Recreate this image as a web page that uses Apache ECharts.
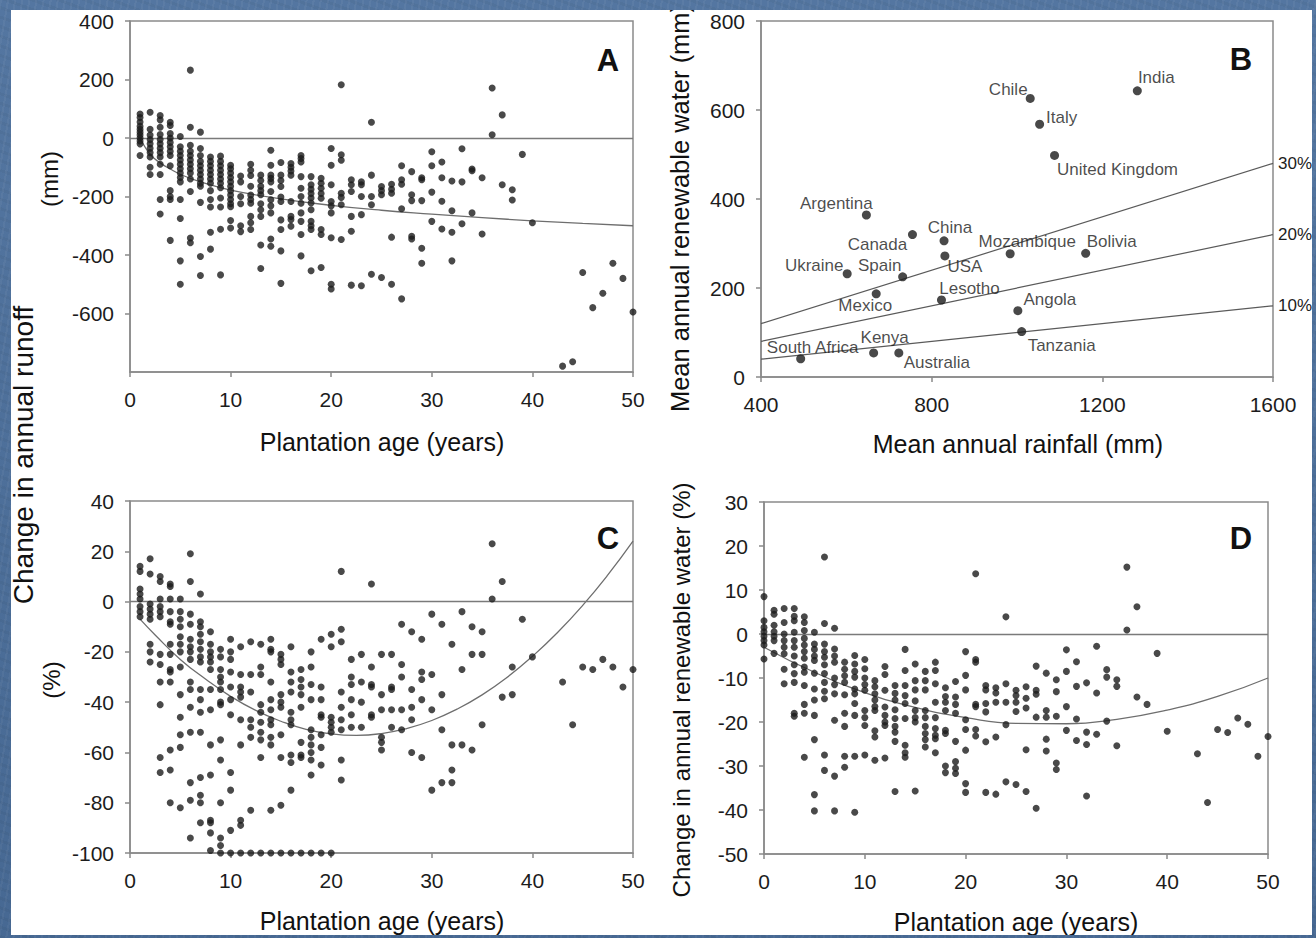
<!DOCTYPE html>
<html><head><meta charset="utf-8">
<script src="https://cdn.jsdelivr.net/npm/echarts@6/dist/echarts.min.js"></script>
<style>
html,body{margin:0;padding:0;width:1316px;height:938px;overflow:hidden;}
body{position:relative;}
.blue{background-color:#4b6f9c;background-image:linear-gradient(180deg,rgba(255,255,255,0.05),rgba(0,0,0,0.06)),repeating-linear-gradient(100deg,rgba(255,255,255,0.045) 0 2px,transparent 2px 7px),repeating-linear-gradient(20deg,rgba(0,0,0,0.04) 0 3px,transparent 3px 9px);background-attachment:fixed;}
#paper{position:absolute;left:11px;top:10px;width:1301px;height:925px;background:#fff;}
#chart{position:absolute;left:0;top:0;width:1316px;height:938px;}
.frame{position:absolute;}
</style></head>
<body class="blue">
<div id="paper"></div>
<div id="chart"></div>
<div class="frame blue" style="left:0;top:0;width:1316px;height:10px"></div>
<div class="frame blue" style="left:0;top:935px;width:1316px;height:3px"></div>
<div class="frame blue" style="left:0;top:0;width:11px;height:938px"></div>
<div class="frame blue" style="left:1312px;top:0;width:4px;height:938px"></div>
<script>
// ---------------- DATA ----------------
// Panel A: change in annual runoff (mm), grouped by plantation age (years)
const runoffMmByAge = [
  [1, [82, 70, 55, 40, 30, 20, 10, 0, -10, -20, -60]],
  [2, [88, 30, 10, -5, -20, -35, -50, -65, -100, -125]],
  [3, [77, 62, 37, 12, -5, -20, -35, -50, -65, -90, -125, -210, -260]],
  [4, [54, 43, 15, 0, -15, -30, -45, -60, -95, -180, -200, -210, -350]],
  [5, [5, -30, -45, -60, -75, -90, -105, -120, -135, -150, -210, -275, -420, -500]],
  [6, [232, 37, -25, -45, -60, -75, -90, -105, -120, -140, -183, -342, -358]],
  [7, [20, -36, -60, -80, -95, -110, -125, -140, -155, -165, -220, -405, -470]],
  [8, [-65, -80, -95, -110, -125, -140, -155, -180, -210, -236, -322, -380]],
  [9, [-62, -80, -95, -110, -125, -140, -155, -170, -205, -236, -312, -468]],
  [10, [-93, -105, -120, -135, -150, -165, -180, -195, -210, -225, -235, -282, -308]],
  [11, [-130, -150, -200, -225, -300, -320]],
  [12, [-90, -110, -128, -165, -195, -210, -223, -268, -290, -313]],
  [13, [-127, -145, -165, -180, -194, -225, -245, -268, -366, -446]],
  [14, [-42, -93, -127, -138, -150, -183, -211, -232, -256, -345, -370]],
  [15, [-84, -127, -145, -166, -202, -217, -280, -313, -386, -497]],
  [16, [-87, -100, -113, -127, -217, -268, -279, -302]],
  [17, [-60, -70, -82, -132, -172, -200, -223, -256, -285, -330, -403]],
  [18, [-132, -160, -175, -190, -205, -222, -245, -285, -300, -313, -454]],
  [19, [-138, -155, -172, -190, -206, -313, -330, -443]],
  [20, [-36, -93, -160, -217, -232, -256, -341, -500, -516]],
  [21, [182, -57, -76, -189, -203, -228, -347]],
  [22, [-143, -160, -183, -268, -319, -503]],
  [23, [-150, -160, -200, -262, -505]],
  [24, [54, -127, -200, -228, -466]],
  [25, [-166, -180, -194, -477]],
  [26, [-158, -175, -189, -339, -500]],
  [27, [-95, -143, -158, -242, -550]],
  [28, [-115, -194, -214, -336, -345]],
  [29, [-136, -143, -214, -377, -428]],
  [30, [-47, -95, -185, -285]],
  [31, [-82, -136, -216, -311]],
  [32, [-147, -249, -322, -420]],
  [33, [-37, -150, -293]],
  [34, [-106, -112, -256]],
  [35, [-136, -328]],
  [36, [171, 11]],
  [37, [79, -160]],
  [38, [-177, -212]],
  [39, [-56]],
  [40, [-290]],
  [43, [-780]],
  [44, [-765]],
  [45, [-460]],
  [46, [-580]],
  [47, [-531]],
  [48, [-428]],
  [49, [-480]],
  [50, [-595]]
];
const runoffMmFit = [[0.8,0],[1,-4],[2,-56],[3,-85],[4,-106],[5,-124],[7,-150],[10,-178],[15,-208],[20,-230],[25,-247],[30,-260],[35,-272],[40,-283],[45,-292],[50,-300]];

// Panel B: countries
const countries = ['India','Chile','Italy','United Kingdom','Argentina','Canada','China','USA','Mozambique','Bolivia','Ukraine','Spain','Mexico','Lesotho','Angola','Tanzania','South Africa','Kenya','Australia'];
const rainfallMm = [1282, 1031, 1053, 1088, 647, 755, 829, 831, 984, 1161, 602, 732, 670, 823, 1002, 1011, 493, 664, 723];
const renewableMm = [643, 626, 568, 498, 364, 320, 306, 272, 277, 278, 232, 225, 187, 173, 149, 102, 41, 54, 54];
const shareLabels = ['10%', '20%', '30%'];
const shareLines = [
  [[400, 40], [1600, 160]],
  [[400, 80], [1600, 320]],
  [[400, 120], [1600, 480]]
];

// Panel C: change in annual runoff (%)
const runoffPctByAge = [
  [1, [14, 12, 5, 3, 1, -2, -4, -6]],
  [2, [17, 11, -1, -3, -5, -7, -17, -20, -24]],
  [3, [10, 8, 1, -2, -4, -6, -21, -25, -32, -41, -62, -68]],
  [4, [7, 6, 1, -4, -8, -9, -17, -21, -27, -28, -32, -59, -67, -80]],
  [5, [1, -4, -7, -10, -14, -17, -20, -26, -37, -46, -53, -58, -82]],
  [6, [19, 8, -5, -9, -15, -18, -20, -23, -32, -35, -42, -52, -72, -79, -94]],
  [7, [3, -8, -10, -13, -16, -19, -22, -24, -35, -39, -44, -52, -70, -77, -80, -88]],
  [8, [-12, -17, -20, -22, -24, -27, -35, -43, -57, -69, -87, -88, -92, -99]],
  [9, [-19, -22, -27, -30, -32, -35, -40, -41, -55, -63, -80, -94, -97, -100]],
  [10, [-15, -20, -23, -28, -34, -39, -45, -68, -75, -91, -100]],
  [11, [-18, -29, -34, -36, -38, -47, -57, -87, -89, -100]],
  [12, [-16, -29, -36, -47, -50, -54, -83, -100]],
  [13, [-17, -26, -29, -41, -44, -48, -52, -55, -62, -100]],
  [14, [-15, -19, -20, -32, -39, -43, -47, -49, -54, -57, -83, -100]],
  [15, [-21, -23, -25, -37, -40, -42, -53, -62, -81, -100]],
  [16, [-18, -28, -32, -36, -44, -47, -49, -61, -64, -75, -100]],
  [17, [-27, -31, -34, -37, -42, -56, -61, -62, -100]],
  [18, [-20, -26, -33, -39, -51, -54, -57, -60, -63, -69, -100]],
  [19, [-15, -34, -39, -45, -46, -53, -58, -65, -100]],
  [20, [-13, -18, -46, -48, -50, -52, -100]],
  [21, [12, -11, -16, -36, -42, -47, -51, -63, -71]],
  [22, [-23, -30, -33, -39, -45, -50]],
  [23, [-21, -32, -40, -50]],
  [24, [7, -26, -33, -34, -45, -46]],
  [25, [-21, -37, -43, -54, -56, -59]],
  [26, [-21, -34, -35, -43, -50]],
  [27, [-9, -25, -30, -43, -51]],
  [28, [-12, -35, -42, -47, -60]],
  [29, [-15, -28, -31, -39, -62]],
  [30, [-5, -29, -43, -75]],
  [31, [-9, -37, -51, -72]],
  [32, [-17, -57, -67, -72]],
  [33, [-4, -27, -57]],
  [34, [-10, -21, -59]],
  [35, [-12, -21, -49]],
  [36, [23, 1]],
  [37, [8, -38]],
  [38, [-26, -37]],
  [39, [-7]],
  [40, [-22]],
  [43, [-32]],
  [44, [-49]],
  [45, [-26]],
  [46, [-27]],
  [47, [-23]],
  [48, [-26]],
  [49, [-34]],
  [50, [-27]]
];
const runoffPctFit = [[1,-7],[2.5,-13.3],[5,-23],[7.5,-30.8],[10,-37.7],[12.5,-43.3],[15,-47.6],[17.5,-50.8],[20,-52.6],[22.5,-53.2],[25,-52.5],[27.5,-50.5],[30,-47.3],[32.5,-42.8],[35,-37.1],[37.5,-30.1],[40,-21.8],[42.5,-12.3],[45,-1.5],[47.5,10.6],[50,24]];

// Panel D: change in annual renewable water (%)
const renewPctByAge = [
  [0, [8.5, 3, 1.5, 0.5, -0.5, -1.5, -2.5, -5.7]],
  [1, [5.4, 4.5, 2, 0.5, -0.5, -1.5, -4.4]],
  [2, [5.8, 2.6, 0, -1.5, -3, -4.5, -8, -11.3]],
  [3, [5.8, 4, 3, 0.4, -1.5, -3, -5, -7, -9, -11, -18, -18.7]],
  [4, [3.9, 2.6, 0.8, -1, -2.5, -4, -5.5, -7.5, -8.7, -11.7, -16, -18, -28]],
  [5, [0.4, -2.3, -3.5, -5, -6, -8.9, -12.5, -15, -18.5, -24, -36.5, -40.2]],
  [6, [17.5, 2.4, -2.3, -4, -5.3, -7, -9, -11, -13, -14.7, -27.5, -31]],
  [7, [1.3, -3.4, -5, -6.4, -10, -11.5, -13.6, -19.6, -32.3, -40.2]],
  [8, [-6.4, -8, -9.5, -11, -13.8, -18, -21, -27.8, -30.3]],
  [9, [-4.9, -6.8, -8.5, -9.8, -12.5, -13.6, -15.8, -18.5, -27.8, -40.5]],
  [10, [-5.8, -7.9, -10, -11.5, -12.8, -17.4, -19, -20.8, -27.5]],
  [11, [-10.6, -12, -13.6, -15, -16.5, -17.4, -22, -23.4, -28.7]],
  [12, [-7.4, -9.2, -12.8, -16.6, -18.5, -20, -20.8, -28.2]],
  [13, [-11.7, -13.5, -15, -17.2, -19.2, -21, -22.3, -24.4, -35.8]],
  [14, [-3.5, -8.3, -11.7, -14, -15.8, -19.2, -25.3, -27, -28]],
  [15, [-6.8, -10.6, -12.7, -15.2, -17.4, -19, -20, -35.7]],
  [16, [-8.5, -10.6, -12.7, -17.4, -19, -21, -22.6, -24, -25.7]],
  [17, [-6.4, -8.3, -11.3, -15.5, -19, -21.5, -23, -23.8, -27]],
  [18, [-12.2, -14.2, -15.5, -17.4, -21.9, -22.6, -30, -31.5]],
  [19, [-10.8, -14.3, -16, -18, -24.4, -29, -30.5, -31.7]],
  [20, [-4, -9.4, -12.7, -19.5, -21.7, -26.4, -34, -36]],
  [21, [13.7, -5.8, -6.4, -16, -16.5, -21.7, -23.2]],
  [22, [-11.7, -12.7, -15.8, -17.7, -24.5, -36]],
  [23, [-12.2, -13.4, -15.5, -23.4, -36.4]],
  [24, [3.9, -11.3, -15.5, -20.6, -33.6]],
  [25, [-12.8, -14, -15.5, -17.6, -34.2]],
  [26, [-12, -14.6, -16.8, -26.3, -35.8]],
  [27, [-7.3, -12.8, -13.7, -18.9, -39.6]],
  [28, [-8.9, -17.4, -18.9, -23.9, -26.6]],
  [29, [-10.4, -13.1, -18.7, -29.3, -30.8]],
  [30, [-3.6, -8.5, -16.5, -21.9]],
  [31, [-6.3, -11.9, -19.3, -24.2]],
  [32, [-11.1, -22.3, -25.1, -36.8]],
  [33, [-2.8, -13.4, -22.8]],
  [34, [-8.1, -9.8, -19.8]],
  [35, [-10.4, -11.9, -25.4]],
  [36, [15.2, 0.9]],
  [37, [6.2, -14.3]],
  [38, [-16]],
  [39, [-4.4]],
  [40, [-22.1]],
  [43, [-27.2]],
  [44, [-38.3]],
  [45, [-21.7]],
  [46, [-22.4]],
  [47, [-19.1]],
  [48, [-20.5]],
  [49, [-27.8]],
  [50, [-23.3]]
];
const renewPctFit = [[0,-3],[5,-8.7],[10,-13.3],[15,-16.7],[20,-19],[25,-20.3],[30,-20.4],[35,-19.4],[40,-17.3],[45,-14.2],[50,-10]];

// Tick settings
const ageTicks = {min: 0, max: 50, interval: 10};
const runoffMmTicks = {min: -800, max: 400, interval: 200};
const rainfallTicks = {min: 400, max: 1600, interval: 400};
const renewableTicks = {min: 0, max: 800, interval: 200};
const runoffPctTicks = {min: -100, max: 40, interval: 20};
const renewPctTicks = {min: -50, max: 30, interval: 10};

// ---------------- LAYOUT / STYLE ----------------
const FONT = '"Liberation Sans", Arial, Helvetica, sans-serif';
const AXIS_COLOR = '#8a8a8a';
const DOT = '#1b1b1b';
const FIT_COLOR = '#6e6e6e';
const labelOffsets = {
  'India': [19, -13], 'Chile': [-22, -9], 'Italy': [22, -7], 'United Kingdom': [63, 14],
  'Argentina': [-30, -12], 'Canada': [-35, 10], 'China': [6, -13], 'USA': [20, 11],
  'Mozambique': [17, -12], 'Bolivia': [26, -12], 'Ukraine': [-33, -8], 'Spain': [-23, -11],
  'Mexico': [-11, 12], 'Lesotho': [28, -12], 'Angola': [32, -11], 'Tanzania': [40, 14],
  'South Africa': [12, -11], 'Kenya': [11, -15], 'Australia': [38, 10]
};

function flatten(groups) {
  const out = [];
  groups.forEach(([age, vals]) => vals.forEach(v => out.push([age, v])));
  return out;
}

function axis(gi, ticks, isX, extraLabel) {
  return {
    type: 'value', gridIndex: gi, min: ticks.min, max: ticks.max, interval: ticks.interval,
    axisLine: {show: true, onZero: false, lineStyle: {color: AXIS_COLOR, width: 1.5}},
    axisTick: {show: true, length: 5, lineStyle: {color: AXIS_COLOR, width: 1.5}},
    axisLabel: Object.assign({fontSize: 21, color: '#1c1c1c', fontFamily: FONT, margin: isX ? 17 : 16,
      formatter: v => String(v)}, extraLabel || {}),
    splitLine: {show: false}
  };
}

function dots(xi, data, size) {
  return {
    type: 'scatter', xAxisIndex: xi, yAxisIndex: xi, data: data, symbolSize: size || 7,
    itemStyle: {color: DOT}, clip: false, z: 5,
    markLine: {silent: true, symbol: 'none', label: {show: false}, animation: false,
      lineStyle: {color: '#7a7a7a', width: 1.3, type: 'solid'}, data: [{yAxis: 0}]}
  };
}

function fit(xi, data) {
  return {type: 'line', xAxisIndex: xi, yAxisIndex: xi, data: data, smooth: true, showSymbol: false,
    lineStyle: {color: FIT_COLOR, width: 1.3}, z: 4, silent: true};
}

function text(str, x, y, size, opts) {
  return Object.assign({type: 'text', x: x, y: y, z: 10,
    style: {text: str, fill: '#111', font: (opts && opts.bold ? 'bold ' : '') + size + 'px ' + FONT,
      textAlign: 'center', textVerticalAlign: 'middle'}}, opts && opts.rot ? {rotation: Math.PI / 2} : {});
}

const countryData = countries.map((c, i) => ({
  name: c, value: [rainfallMm[i], renewableMm[i]],
  label: {show: true, formatter: c, position: 'inside', offset: labelOffsets[c],
    fontSize: 17, color: '#1c1c1c', fontFamily: FONT}
}));

const chart = echarts.init(document.getElementById('chart'), null, {renderer: 'svg'});
chart.setOption({
  animation: false,
  backgroundColor: 'transparent',
  grid: [
    {left: 130, top: 21, width: 503, height: 351, show: true, borderColor: AXIS_COLOR, borderWidth: 1.5},
    {left: 761, top: 21, width: 512, height: 356, show: true, borderColor: AXIS_COLOR, borderWidth: 1.5},
    {left: 130, top: 501, width: 503, height: 352, show: true, borderColor: AXIS_COLOR, borderWidth: 1.5},
    {left: 764, top: 502, width: 504, height: 352, show: true, borderColor: AXIS_COLOR, borderWidth: 1.5}
  ],
  xAxis: [
    axis(0, ageTicks, true),
    axis(1, rainfallTicks, true),
    axis(2, ageTicks, true),
    axis(3, ageTicks, true)
  ],
  yAxis: [
    axis(0, runoffMmTicks, false, {showMinLabel: false}),
    axis(1, renewableTicks, false),
    axis(2, runoffPctTicks, false),
    axis(3, renewPctTicks, false)
  ],
  series: [
    dots(0, flatten(runoffMmByAge)),
    fit(0, runoffMmFit),
    {type: 'scatter', xAxisIndex: 1, yAxisIndex: 1, data: countryData, symbolSize: 9,
      itemStyle: {color: DOT}, clip: false, z: 5},
    ...shareLines.map((pts, i) => ({
      type: 'line', xAxisIndex: 1, yAxisIndex: 1, data: pts, showSymbol: false, silent: true,
      lineStyle: {color: '#5a5a5a', width: 1.2}, z: 3,
      endLabel: {show: true, formatter: shareLabels[i], distance: 5, fontSize: 17, color: '#1c1c1c', fontFamily: FONT}
    })),
    dots(2, flatten(runoffPctByAge)),
    fit(2, runoffPctFit),
    dots(3, flatten(renewPctByAge)),
    fit(3, renewPctFit)
  ],
  graphic: [
    text('A', 608, 60, 31, {bold: true}),
    text('B', 1241, 59, 31, {bold: true}),
    text('C', 608, 538, 31, {bold: true}),
    text('D', 1241, 538, 31, {bold: true}),
    text('(mm)', 49, 179, 24, {rot: true}),
    text('Change in annual runoff', 23, 455, 28, {rot: true}),
    text('(%)', 51, 680, 24, {rot: true}),
    text('Plantation age (years)', 382, 442, 25),
    text('Plantation age (years)', 382, 921, 25),
    text('Mean annual rainfall (mm)', 1018, 444, 25),
    text('Plantation age (years)', 1016, 922, 25),
    text('Mean annual renewable water (mm)', 680, 208, 25.5, {rot: true}),
    text('Change in annual renewable water (%)', 681, 690, 24, {rot: true})
  ]
});
</script>
</body></html>
